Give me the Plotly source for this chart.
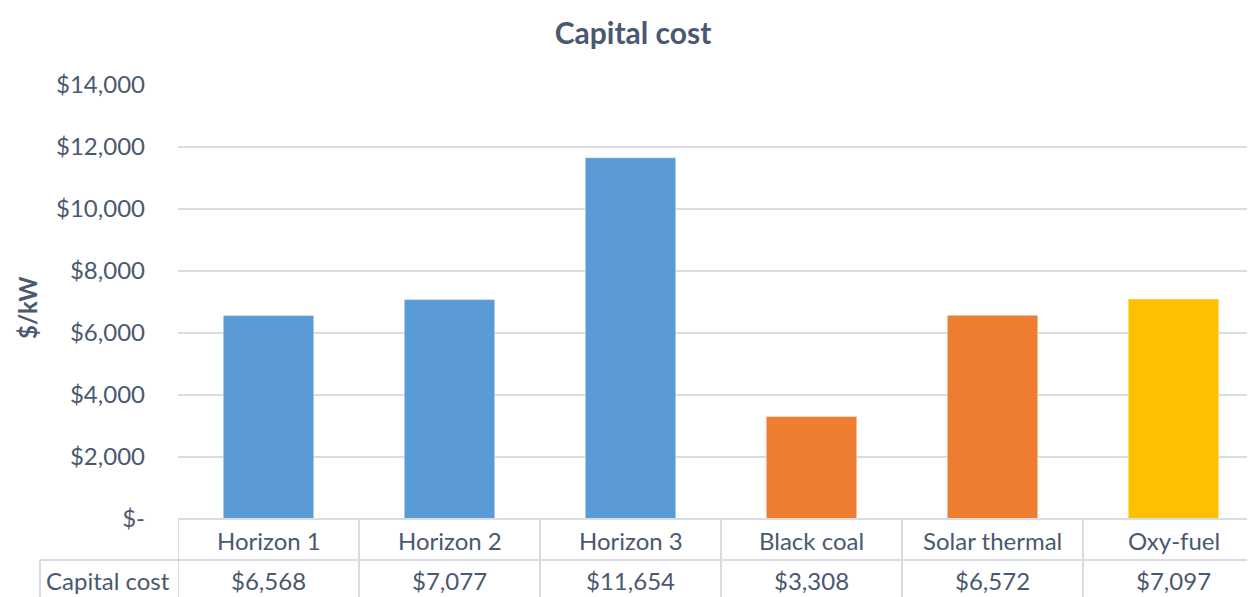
import plotly.graph_objects as go

categories = ["Horizon 1", "Horizon 2", "Horizon 3", "Black coal", "Solar thermal", "Oxy-fuel"]
capital_cost = [6568, 7077, 11654, 3308, 6572, 7097]
bar_colors = ["#5b9bd5", "#5b9bd5", "#5b9bd5", "#ed7d31", "#ed7d31", "#ffc000"]
y_ticks = [0, 2000, 4000, 6000, 8000, 10000, 12000, 14000]
row_label = "Capital cost"

text_color = "#4a5870"
grid_color = "#d9dce3"
font = "Lato"

# page body has an 8px margin, so work in page pixels and shift
OFF = 8
W, H = 1264 - OFF, 597 - OFF
plot_left, plot_right, plot_top, plot_bottom = 178, 1264, 85, 519
L = plot_left - OFF
T = plot_top - OFF
R = W - (plot_right - OFF)
B = H - (plot_bottom - OFF)
ph = plot_bottom - plot_top
pw = plot_right - plot_left


def py(pix):
    return (plot_bottom - pix) / ph


def px_(pix):
    return (pix - plot_left) / pw


fig = go.Figure(go.Bar(
    x=categories, y=capital_cost,
    marker=dict(color=bar_colors, line=dict(width=1, color="rgba(255,255,255,0.4)")),
    showlegend=False,
))

ticktext = ["$-" if v == 0 else "${:,}".format(v) for v in y_ticks]

fig.update_layout(
    width=W, height=H,
    margin=dict(l=L, r=R, t=T, b=B, autoexpand=False),
    paper_bgcolor="white", plot_bgcolor="white",
    font=dict(family=font, color=text_color, size=24),
    title=dict(text="<b>Capital cost</b>", x=px_(633), xref="paper", xanchor="center",
               y=1 - (33 - OFF) / H, yanchor="middle", yref="container",
               font=dict(size=30, color=text_color)),
    bargap=0.5,
)
fig.update_xaxes(range=[-0.5, len(categories) - 0.5], showticklabels=False,
                 showgrid=False, zeroline=False, showline=False)
fig.update_yaxes(range=[0, 14000], tickvals=y_ticks, ticktext=ticktext,
                 showgrid=True, gridcolor=grid_color, gridwidth=2,
                 zeroline=False, showline=False, ticklabelstandoff=32,
                 tickfont=dict(size=24, color=text_color))

shapes = []
line = dict(color=grid_color, width=2)
shapes.append(dict(type="line", xref="paper", yref="paper", x0=0, x1=1, y0=0, y1=0, line=line))
shapes.append(dict(type="line", xref="paper", yref="paper", x0=px_(40), x1=1, y0=py(560), y1=py(560), line=line))
shapes.append(dict(type="line", xref="paper", yref="paper", x0=px_(40), x1=px_(40), y0=py(560), y1=py(605), line=line))
for i in range(len(categories) + 1):
    shapes.append(dict(type="line", xref="x", yref="paper", x0=i - 0.5, x1=i - 0.5,
                       y0=0, y1=py(605), line=line))
fig.update_layout(shapes=shapes)

annotations = []
for c, v in zip(categories, capital_cost):
    annotations.append(dict(x=c, y=py(540), xref="x", yref="paper", text=c,
                            xanchor="center", yanchor="middle", showarrow=False,
                            font=dict(size=24, color=text_color)))
    annotations.append(dict(x=c, y=py(580), xref="x", yref="paper", text="${:,}".format(v),
                            xanchor="center", yanchor="middle", showarrow=False,
                            font=dict(size=24, color=text_color)))
annotations.append(dict(x=px_(108), y=py(580), xref="paper", yref="paper", text=row_label,
                        xanchor="center", yanchor="middle", showarrow=False,
                        font=dict(size=24, color=text_color)))
annotations.append(dict(x=px_(27), y=py(308), xref="paper", yref="paper", text="<b>$/kW</b>",
                        xanchor="center", yanchor="middle", textangle=-90, showarrow=False,
                        font=dict(size=24, color=text_color)))
fig.update_layout(annotations=annotations)

fig.write_html("out.html")
